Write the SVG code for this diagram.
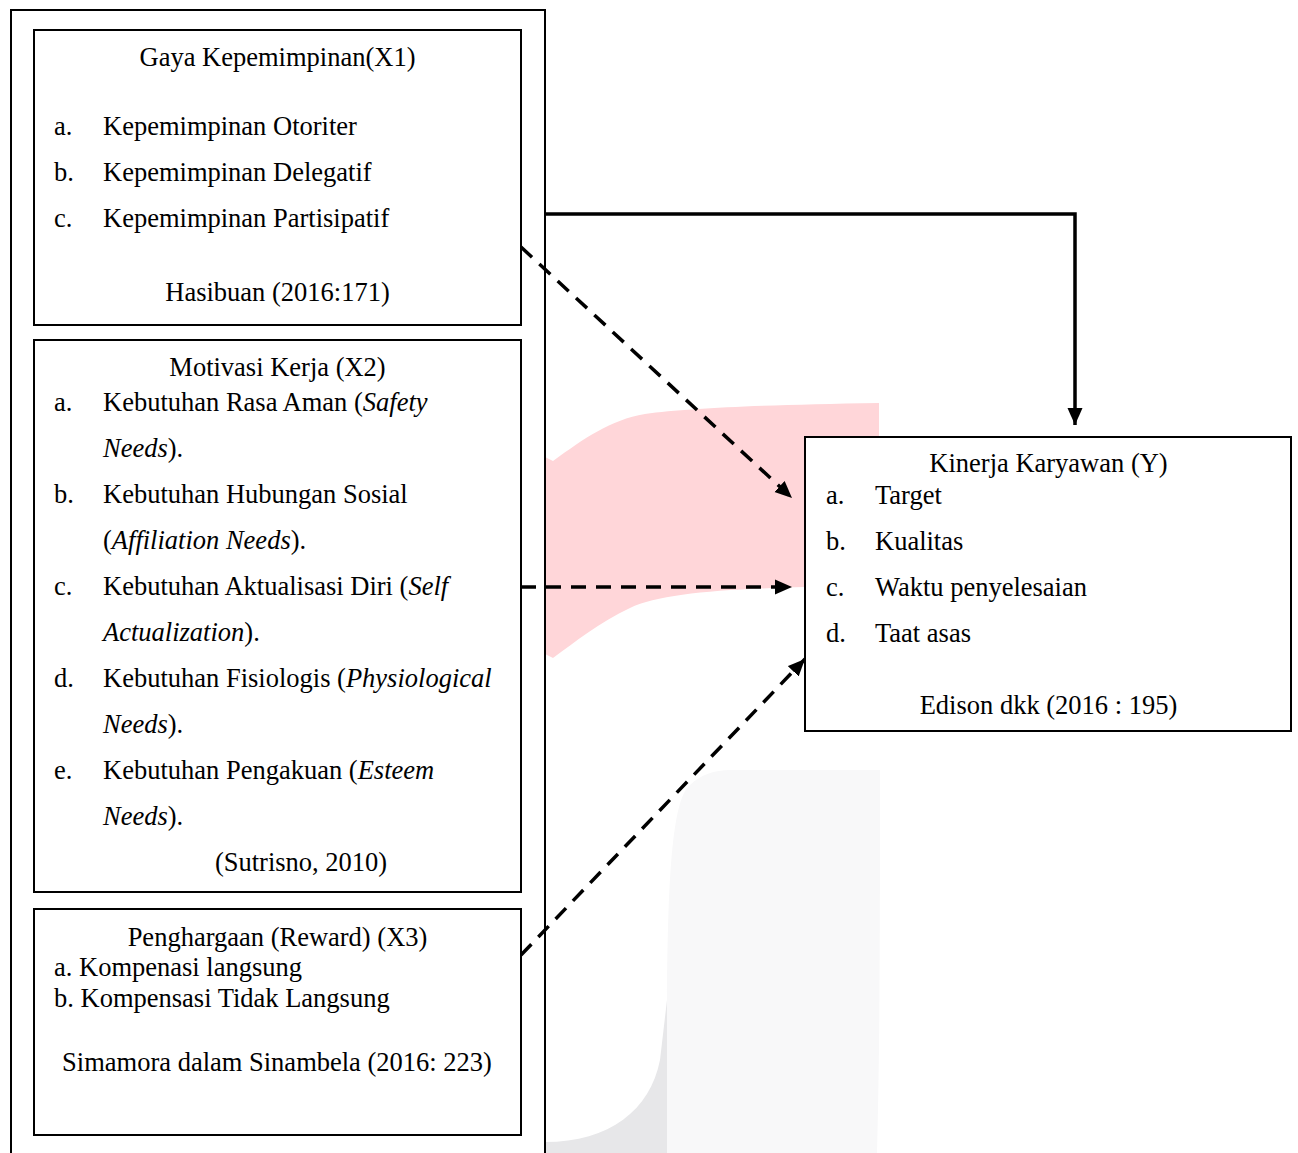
<svg xmlns="http://www.w3.org/2000/svg" width="1298" height="1153" viewBox="0 0 1298 1153">
<style>
text{font-family:"Liberation Serif","Times New Roman",serif;font-size:26.5px;fill:#000}
.c{text-anchor:middle}
.i{font-style:italic}
.box{fill:#fff;stroke:#000;stroke-width:2}
.con{fill:none;stroke:#000;stroke-width:3.5}
.dash{stroke-dasharray:15 10}
</style>
<defs>
<marker id="ah" markerUnits="userSpaceOnUse" markerWidth="18" markerHeight="16" refX="17" refY="8" orient="auto" viewBox="0 0 18 16">
<path d="M0,0.5 L17,8 L0,15.5 z" fill="#000"/>
</marker>
</defs>
<rect width="1298" height="1153" fill="#fff"/>
<g id="watermark">
<path d="M545,457 L553,461 C585,438 610,420 645,414 C690,408 760,405 879,403 L879,590 L805,587 C720,589 660,594 630,608 C600,622 575,642 553,658 L545,654 Z" fill="#FFD6D9"/>
<path d="M667,1153 L667,1000 C668,900 670,800 690,785 C700,775 715,770 730,770 L880,770 C880,900 880,1050 877,1153 Z" fill="#F8F8F9"/>
<path d="M545,1142 C610,1142 650,1110 660,1060 L667,1000 L667,1153 L545,1153 Z" fill="#E7E7E9"/>
</g>
<g id="outer">
<path d="M11,1153 V10 H545 V1153" fill="none" stroke="#000" stroke-width="2"/>
</g>
<g id="connectors">
<path class="con" d="M545,214 H1075 V425" marker-end="url(#ah)"/>
<path class="con dash" d="M521,247 L792,498" marker-end="url(#ah)"/>
<path class="con dash" d="M521,587 L792,587" marker-end="url(#ah)"/>
<path class="con dash" d="M521,955 L805,659" marker-end="url(#ah)"/>
</g>
<g id="x1">
<rect class="box" x="34" y="30" width="487" height="295"/>
<text class="c" x="277.5" y="66">Gaya Kepemimpinan(X1)</text>
<text x="54" y="135">a.</text><text x="103" y="135">Kepemimpinan Otoriter</text>
<text x="54" y="181">b.</text><text x="103" y="181">Kepemimpinan Delegatif</text>
<text x="54" y="227">c.</text><text x="103" y="227">Kepemimpinan Partisipatif</text>
<text class="c" x="277.5" y="301">Hasibuan (2016:171)</text>
</g>
<g id="x2">
<rect class="box" x="34" y="340" width="487" height="552"/>
<text class="c" x="277.5" y="376">Motivasi Kerja (X2)</text>
<text x="54" y="411">a.</text><text x="103" y="411">Kebutuhan Rasa Aman (<tspan class="i">Safety</tspan></text>
<text x="103" y="457"><tspan class="i">Needs</tspan>).</text>
<text x="54" y="503">b.</text><text x="103" y="503">Kebutuhan Hubungan Sosial</text>
<text x="103" y="549">(<tspan class="i">Affiliation Needs</tspan>).</text>
<text x="54" y="595">c.</text><text x="103" y="595">Kebutuhan Aktualisasi Diri (<tspan class="i">Self</tspan></text>
<text x="103" y="641"><tspan class="i">Actualization</tspan>).</text>
<text x="54" y="687">d.</text><text x="103" y="687">Kebutuhan Fisiologis (<tspan class="i">Physiological</tspan></text>
<text x="103" y="733"><tspan class="i">Needs</tspan>).</text>
<text x="54" y="779">e.</text><text x="103" y="779">Kebutuhan Pengakuan (<tspan class="i">Esteem</tspan></text>
<text x="103" y="825"><tspan class="i">Needs</tspan>).</text>
<text x="301" y="871" class="c">(Sutrisno, 2010)</text>
</g>
<g id="x3">
<rect class="box" x="34" y="909" width="487" height="226"/>
<text class="c" x="277.5" y="946">Penghargaan (Reward) (X3)</text>
<text x="54" y="976">a. Kompenasi langsung</text>
<text x="54" y="1007">b. Kompensasi Tidak Langsung</text>
<text class="c" x="277" y="1071">Simamora dalam Sinambela (2016: 223)</text>
</g>
<g id="y">
<rect class="box" x="805" y="437" width="486" height="294"/>
<text class="c" x="1048.5" y="472">Kinerja Karyawan (Y)</text>
<text x="826" y="504">a.</text><text x="875" y="504">Target</text>
<text x="826" y="550">b.</text><text x="875" y="550">Kualitas</text>
<text x="826" y="596">c.</text><text x="875" y="596">Waktu penyelesaian</text>
<text x="826" y="642">d.</text><text x="875" y="642">Taat asas</text>
<text class="c" x="1048.5" y="714">Edison dkk (2016 : 195)</text>
</g>
</svg>
